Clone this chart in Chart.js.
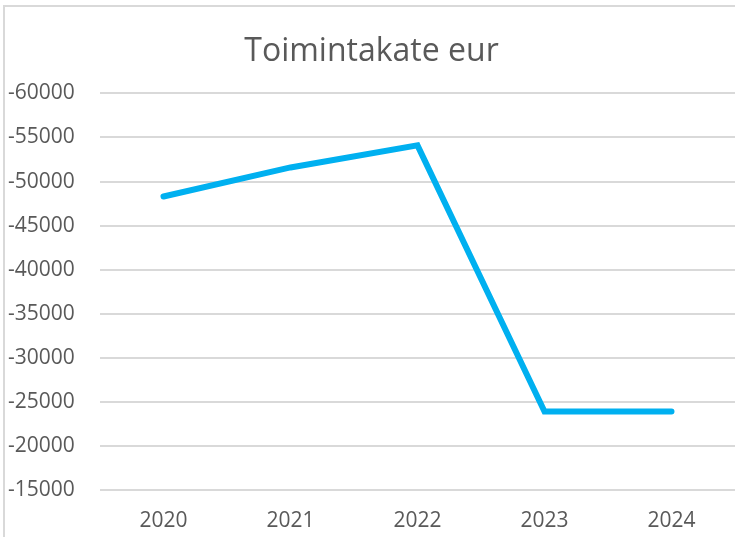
<!DOCTYPE html>
<html>
<head>
<meta charset="utf-8">
<script src="https://cdn.jsdelivr.net/npm/chart.js@4/dist/chart.umd.min.js"></script>
<style>
  html, body { margin: 0; padding: 0; background: #fff; overflow: hidden; width: 735px; height: 537px; }
  #frame {
    position: absolute; left: 3px; top: 5px; width: 732px; height: 532px;
    border-top: 2px solid #d9d9d9; border-left: 2px solid #d9d9d9;
    box-sizing: border-box;
  }
  #wrap { position: absolute; left: 0; top: 0; width: 735px; height: 537px; }
</style>
</head>
<body>
<div id="frame"></div>
<div id="wrap"><canvas id="chart"></canvas></div>
<script>
// values
const years = ["2020", "2021", "2022", "2023", "2024"];
const toimintakate = [-48300, -51600, -54100, -23900, -23900];
const yMin = -60000;
const yMax = -15000;
const yStep = 5000;

const textColor = "#595959";
const fontFamily = "'Open Sans', sans-serif";

new Chart(document.getElementById("chart"), {
    type: "line",
    data: {
        labels: years,
        datasets: [{
            label: "Toimintakate eur",
            data: toimintakate,
            borderColor: "#00B0F0",
            borderWidth: 6,
            borderCapStyle: "round",
            borderJoinStyle: "miter",
            pointRadius: 0,
            fill: false,
            tension: 0
        }]
    },
    options: {
        responsive: true,
        maintainAspectRatio: false,
        animation: false,
        layout: { padding: { left: 8, right: 0, top: 0, bottom: 0 } },
        plugins: {
            legend: { display: false },
            tooltip: { enabled: false },
            title: {
                display: true,
                text: "Toimintakate eur",
                color: textColor,
                font: { family: fontFamily, size: 32, weight: "normal", lineHeight: 1.2 },
                padding: { top: 33, bottom: 22 }
            }
        },
        scales: {
            x: {
                offset: true,
                grid: { display: false, drawTicks: false },
                border: { display: false },
                ticks: {
                    color: textColor,
                    padding: 18,
                    font: { family: fontFamily, size: 21 }
                },
                afterFit(scale) { scale.height = 47; }
            },
            y: {
                reverse: true,
                min: yMin,
                max: yMax,
                grid: { color: "#d9d9d9", lineWidth: 2, drawTicks: false },
                border: { display: false },
                ticks: {
                    stepSize: yStep,
                    color: textColor,
                    crossAlign: "far",
                    padding: 0,
                    font: { family: fontFamily, size: 21 },
                    callback: v => String(v)
                },
                afterFit(scale) { scale.width = 92; }
            }
        }
    }
});
</script>
</body>
</html>
